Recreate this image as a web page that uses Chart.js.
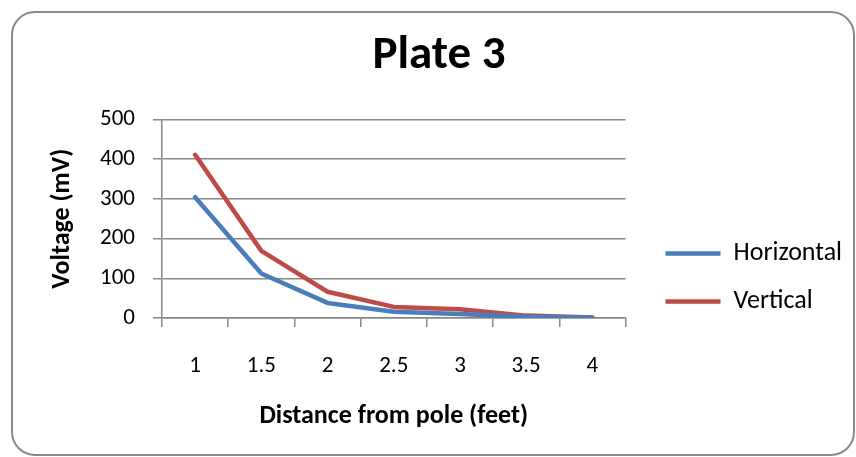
<!DOCTYPE html>
<html>
<head>
<meta charset="utf-8">
<script src="https://cdn.jsdelivr.net/npm/chart.js@4"></script>
<style>
  html, body { margin: 0; padding: 0; background: #fff; }
  #wrap { position: relative; width: 856px; height: 457px; }
  #frame {
    position: absolute; left: 11px; top: 11px; width: 840px; height: 441px;
    border: 2px solid #8a8a8a; border-radius: 24px; pointer-events: none;
  }
</style>
</head>
<body>
<div id="wrap">
  <canvas id="plateChart" width="856" height="457"></canvas>
  <div id="frame"></div>
</div>
<script>
const distances = ['1', '1.5', '2', '2.5', '3', '3.5', '4'];
const horizontal = [304, 112, 38, 16, 10, 3, 1];
const vertical = [411, 169, 66, 28, 22, 6, 1];
const yTicks = [0, 100, 200, 300, 400, 500];

const blu = '#4a7ebb';
const rosso = '#be4b48';
const grigio = '#878787';
const fontFam = 'Carlito, Lato, "Liberation Sans", sans-serif';

// sposta la legenda dove la mette Excel
const legendShift = {
    id: 'legendShift',
    afterLayout(chart) {
        const lg = chart.legend;
        if (!lg) return;
        const h = lg.height;
        lg.left = chart.chartArea.right + 18;
        lg.right = chart.width;
        lg.width = lg.right - lg.left;
        lg.top = chart.chartArea.top + 99;
        lg.bottom = lg.top + h;
    }
};

new Chart(document.getElementById('plateChart').getContext('2d'), {
    type: 'line',
    data: {
        labels: distances,
        datasets: [{
            label: 'Horizontal',
            data: horizontal,
            borderColor: blu,
            backgroundColor: blu,
            borderWidth: 4.5,
            borderCapStyle: 'round',
            borderJoinStyle: 'round',
            pointRadius: 0,
            tension: 0
        }, {
            label: 'Vertical',
            data: vertical,
            borderColor: rosso,
            backgroundColor: rosso,
            borderWidth: 4.5,
            borderCapStyle: 'round',
            borderJoinStyle: 'round',
            pointRadius: 0,
            tension: 0
        }]
    },
    options: {
        responsive: false,
        animation: false,
        layout: { padding: { left: 66, top: 10, right: 44, bottom: 0 } },
        scales: {
            x: {
                offset: true,
                grid: { offset: true, drawOnChartArea: false, tickLength: 9, color: grigio, lineWidth: 1.5 },
                border: { color: grigio, width: 1.5 },
                ticks: { color: '#000', padding: 25, font: { family: fontFam, size: 23 } },
                title: {
                    display: true,
                    text: 'Distance from pole (feet)',
                    color: '#000',
                    font: { family: fontFam, size: 26, weight: 'bold' },
                    padding: { top: 0, bottom: 25 }
                },
                afterFit(scale) { scale.height = 139; }
            },
            y: {
                min: 0,
                max: 500,
                afterBuildTicks(scale) { scale.ticks = yTicks.map(v => ({ value: v })); },
                grid: { color: grigio, lineWidth: 1.5, tickLength: 9 },
                border: { color: grigio, width: 1.5 },
                ticks: { color: '#000', padding: 18, font: { family: fontFam, size: 23 } },
                title: {
                    display: true,
                    text: 'Voltage (mV)',
                    color: '#000',
                    font: { family: fontFam, size: 26, weight: 'bold' },
                    padding: { top: -19, bottom: 0 }
                },
                afterFit(scale) { scale.width = 96; }
            }
        },
        plugins: {
            title: {
                display: true,
                text: 'Plate 3',
                color: '#000',
                font: { family: fontFam, size: 47, weight: 'bold' },
                padding: { top: 18, bottom: 35 }
            },
            legend: {
                display: true,
                position: 'right',
                fullSize: false,
                align: 'start',
                labels: {
                    usePointStyle: true,
                    pointStyle: 'line',
                    pointStyleWidth: 55,
                    padding: 22,
                    color: '#000',
                    font: { family: fontFam, size: 26 }
                }
            },
            tooltip: { enabled: false }
        }
    },
    plugins: [legendShift]
});
</script>
</body>
</html>
